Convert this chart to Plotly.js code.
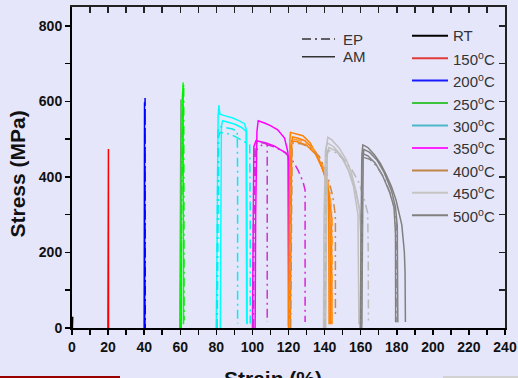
<!DOCTYPE html>
<html>
<head>
<meta charset="utf-8">
<script src="https://cdn.plot.ly/plotly-3.0.1.min.js"></script>
<style>html,body{margin:0;padding:0;background:#e6e6fa;}#chart{width:518px;height:378px;}</style>
</head>
<body>
<div id="chart"></div>
<script>
// ---- Data (strain %, stress MPa), curves offset by 20% per temperature ----
var rt_x = [0.2, 0.4];
var rt_y = [0, 30];

var t150_am1_x = [19.9, 20.0, 20.1, 20.2, 20.25];
var t150_am1_y = [0, 53, 300, 474, 0];

var t200_am1_x = [40.0, 40.1, 40.2, 40.3];
var t200_am1_y = [0, 300, 598, 0];
var t200_ep1_x = [40.3, 40.4, 40.5, 40.6];
var t200_ep1_y = [0, 300, 609, 0];

var t250_am1_x = [59.8, 60.1, 60.4, 60.6];
var t250_am1_y = [0, 300, 605, 0];
var t250_am2_x = [60.0, 60.5, 61.1, 61.6, 61.8];
var t250_am2_y = [0, 300, 600, 650, 10];
var t250_ep1_x = [60.2, 60.8, 61.4, 61.9, 62.1];
var t250_ep1_y = [0, 300, 620, 645, 20];

var t300_am1_x = [80.0, 80.4, 81.0, 81.4, 82.0, 84.0, 89.2, 93.0, 95.6, 96.5, 96.7, 96.8];
var t300_am1_y = [0, 300, 560, 590, 566, 563, 556, 548, 541, 527, 300, 12];
var t300_am2_x = [82.2, 82.4, 82.8, 83.5, 86.0, 90.0, 94.0, 96.8, 97.0, 97.1];
var t300_am2_y = [0, 300, 535, 549, 546, 540, 531, 520, 300, 10];
var t300_ep1_x = [80.1, 80.4, 80.9, 81.6, 85.0, 89.0, 91.6, 91.8, 91.8];
var t300_ep1_y = [0, 300, 520, 534, 531, 527, 520, 400, 12];
var t300_ep2_x = [80.5, 80.8, 81.3, 82.0, 86.0, 90.0, 94.0, 97.0, 98.5, 98.8, 98.8];
var t300_ep2_y = [0, 300, 505, 518, 515, 508, 498, 490, 485, 300, 12];

var t350_am1_x = [101.5, 101.8, 102.5, 103.2, 106.7, 110.0, 114.0, 117.8, 119.6, 120.0, 120.2];
var t350_am1_y = [0, 300, 520, 549, 543, 536, 525, 503, 467, 440, 5];
var t350_am2_x = [100.0, 100.3, 100.8, 102.0, 107.6, 112.0, 118.7, 119.8, 120.0];
var t350_am2_y = [0, 300, 480, 496, 490, 482, 463, 455, 5];
var t350_ep1_x = [100.3, 100.6, 101.5, 104.0, 108.2, 108.2];
var t350_ep1_y = [0, 300, 485, 492, 487, 16];
var t350_ep2_x = [100.6, 100.9, 102.0, 106.0, 112.0, 118.0, 122.0, 125.2, 128.0, 129.2, 129.2];
var t350_ep2_y = [0, 300, 470, 488, 480, 465, 445, 419, 388, 365, 16];

var t400_am1_x = [120.0, 120.3, 120.8, 121.1, 124.0, 128.0, 132.0, 136.2, 139.0, 141.8, 142.3, 142.5];
var t400_am1_y = [0, 300, 500, 518, 514, 509, 490, 454, 420, 384, 300, 10];
var t400_am2_x = [121.0, 121.3, 121.8, 122.2, 125.0, 129.0, 133.0, 137.0, 140.5, 142.8, 143.1, 143.2];
var t400_am2_y = [0, 300, 490, 506, 503, 496, 478, 445, 400, 350, 250, 10];
var t400_am3_x = [120.5, 120.8, 121.3, 121.8, 125.0, 130.0, 135.0, 139.0, 142.0, 143.8, 144.1];
var t400_am3_y = [0, 300, 480, 495, 493, 484, 460, 420, 370, 300, 10];
var t400_ep1_x = [120.8, 121.1, 121.6, 122.0, 126.0, 131.0, 136.0, 140.0, 143.0, 144.2, 144.2];
var t400_ep1_y = [0, 300, 485, 500, 497, 487, 462, 420, 360, 290, 10];
var t400_ep2_x = [121.2, 121.5, 122.0, 122.5, 127.0, 132.0, 137.0, 141.0, 144.5, 145.9, 146.0, 146.0];
var t400_ep2_y = [0, 300, 475, 490, 488, 478, 455, 415, 350, 300, 286, 29];

var t450_am1_x = [140.0, 140.3, 141.0, 141.8, 144.0, 148.2, 152.0, 154.7, 157.5, 159.3, 160.0, 160.2];
var t450_am1_y = [0, 300, 480, 505, 498, 476, 445, 414, 361, 317, 250, 10];
var t450_am2_x = [139.4, 139.7, 140.5, 141.5, 145.0, 149.0, 153.0, 156.0, 158.5, 158.8, 159.0];
var t450_am2_y = [0, 300, 470, 490, 480, 458, 420, 375, 300, 200, 10];
var t450_am3_x = [140.6, 141.0, 141.5, 142.3, 146.0, 150.0, 154.0, 157.0, 159.5, 160.6, 160.7];
var t450_am3_y = [0, 300, 460, 478, 470, 448, 410, 365, 310, 250, 10];
var t450_ep1_x = [140.2, 140.5, 141.2, 142.0, 146.0, 150.0, 155.0, 159.0, 162.0, 163.9, 164.2, 164.3];
var t450_ep1_y = [0, 300, 455, 470, 465, 450, 420, 385, 340, 305, 200, 20];

var t500_am1_x = [160.0, 160.3, 160.8, 161.2, 164.0, 167.6, 171.0, 174.1, 177.0, 179.6, 182.8, 184.2, 184.6, 184.8];
var t500_am1_y = [0, 300, 465, 485, 478, 459, 435, 406, 375, 339, 273, 202, 150, 16];
var t500_am2_x = [160.6, 160.9, 161.4, 161.8, 165.0, 169.0, 173.0, 177.0, 179.3, 180.3, 180.5, 180.6];
var t500_am2_y = [0, 300, 455, 473, 465, 445, 412, 365, 320, 270, 150, 15];
var t500_am3_x = [159.8, 160.1, 160.6, 161.0, 164.0, 168.0, 172.0, 176.0, 178.5, 179.3, 179.4];
var t500_am3_y = [0, 300, 445, 462, 456, 437, 405, 360, 320, 250, 15];
var t500_ep1_x = [160.3, 160.6, 161.1, 161.5, 165.0, 169.0, 173.0, 176.5, 179.0, 180.0, 180.1];
var t500_ep1_y = [0, 300, 435, 452, 447, 428, 397, 355, 310, 260, 15];

var legendLabels = ['RT', '150<sup>o</sup>C', '200<sup>o</sup>C', '250<sup>o</sup>C', '300<sup>o</sup>C',
                    '350<sup>o</sup>C', '400<sup>o</sup>C', '450<sup>o</sup>C', '500<sup>o</sup>C'];
var legendColors = ['#000000', '#e03a3a', '#1a1aff', '#3cc43c', '#4ab8c8', '#ff22ff', '#c0834a', '#c4c4c4', '#808080'];
var styleLabels = ['EP', 'AM'];

// ---- Styles ----
var DD = '9px,4px,2px,4px';
function curve(x, y, color, dash) {
  return {type: 'scatter', mode: 'lines', x: x, y: y, showlegend: false, hoverinfo: 'skip',
          line: {color: color, width: 1.5, dash: dash || 'solid'}};
}
var traces = [
  curve(rt_x, rt_y, '#000000'),
  curve(t150_am1_x, t150_am1_y, '#ff0000'),
  curve(t200_am1_x, t200_am1_y, '#0000ff'),
  curve(t200_ep1_x, t200_ep1_y, '#0000ff', DD),
  curve(t250_am1_x, t250_am1_y, '#6aa66a'),
  curve(t250_am2_x, t250_am2_y, '#00ff00'),
  curve(t250_ep1_x, t250_ep1_y, '#00ee00', DD),
  curve(t300_am1_x, t300_am1_y, '#00ffff'),
  curve(t300_am2_x, t300_am2_y, '#00ffff'),
  curve(t300_ep1_x, t300_ep1_y, '#00f0f0', DD),
  curve(t300_ep2_x, t300_ep2_y, '#00f0f0', DD),
  curve(t350_am1_x, t350_am1_y, '#ff00ff'),
  curve(t350_am2_x, t350_am2_y, '#ff00ff'),
  curve(t350_ep1_x, t350_ep1_y, '#cc33cc', DD),
  curve(t350_ep2_x, t350_ep2_y, '#dd22dd', DD),
  curve(t400_am1_x, t400_am1_y, '#ff8000'),
  curve(t400_am2_x, t400_am2_y, '#ff8000'),
  curve(t400_am3_x, t400_am3_y, '#ff8000'),
  curve(t400_ep1_x, t400_ep1_y, '#ff9a30', DD),
  curve(t400_ep2_x, t400_ep2_y, '#d08a45', DD),
  curve(t450_am1_x, t450_am1_y, '#c0c0c0'),
  curve(t450_am2_x, t450_am2_y, '#c0c0c0'),
  curve(t450_am3_x, t450_am3_y, '#c0c0c0'),
  curve(t450_ep1_x, t450_ep1_y, '#b8b8b8', DD),
  curve(t500_am1_x, t500_am1_y, '#808080'),
  curve(t500_am2_x, t500_am2_y, '#808080'),
  curve(t500_am3_x, t500_am3_y, '#808080'),
  curve(t500_ep1_x, t500_ep1_y, '#8a8a8a', DD)
];
// helper trace so the mirrored frame axes exist
traces.push({type: 'scatter', mode: 'lines', x: rt_x, y: rt_y, xaxis: 'x2', yaxis: 'y2',
             line: {color: 'rgba(0,0,0,0)'}, showlegend: false, hoverinfo: 'skip'});

// ---- Layout geometry (pixels -> paper) ----
var L = 72, T = 7, W = 433, H = 321;
function px(x) { return (x - L) / W; }
function py(y) { return (T + H - y) / H; }

var shapes = [], annotations = [];
var legTop = 35.7, legStep = 22.45;
legendLabels.forEach(function (lab, i) {
  var yy = legTop + i * legStep;
  shapes.push({type: 'line', xref: 'paper', yref: 'paper', x0: px(412), x1: px(448), y0: py(yy), y1: py(yy),
               line: {color: legendColors[i], width: 2}});
  annotations.push({xref: 'paper', yref: 'paper', x: px(451), y: py(yy), xanchor: 'left', yanchor: 'middle',
                    text: lab, showarrow: false, font: {family: 'Arial', size: 15, color: '#333333'}});
});
var styY = [39, 56.7], styDash = [DD, 'solid'];
styleLabels.forEach(function (lab, i) {
  shapes.push({type: 'line', xref: 'paper', yref: 'paper', x0: px(302), x1: px(335), y0: py(styY[i]), y1: py(styY[i]),
               line: {color: '#333333', width: 1.5, dash: styDash[i]}});
  annotations.push({xref: 'paper', yref: 'paper', x: px(341), y: py(styY[i]), xanchor: 'left', yanchor: 'middle',
                    text: lab, showarrow: false, font: {family: 'Arial', size: 15, color: '#333333'}});
});
// axis titles
annotations.push({xref: 'paper', yref: 'paper', x: px(17.5), y: py(174), xanchor: 'center', yanchor: 'middle',
                  textangle: -90, text: 'Stress (MPa)', showarrow: false,
                  font: {family: 'Arial', size: 21, color: '#111111', weight: 'bold'}});
annotations.push({xref: 'paper', yref: 'paper', x: px(272.5), y: py(365), xanchor: 'center', yanchor: 'top',
                  text: 'Strain (%)', showarrow: false,
                  font: {family: 'Arial', size: 21, color: '#111111', weight: 'bold'}});
// screenshot edge strips
shapes.push({type: 'rect', xref: 'paper', yref: 'paper', x0: px(0), x1: px(120), y0: py(378), y1: py(376),
             fillcolor: '#9a0000', line: {width: 0}});
shapes.push({type: 'rect', xref: 'paper', yref: 'paper', x0: px(443), x1: px(518), y0: py(378), y1: py(376),
             fillcolor: '#d2d2d2', line: {width: 0}});

var tickFont = {family: 'Arial', size: 14, color: '#111111', weight: 'bold'};
var layout = {
  width: 518, height: 378,
  margin: {l: L, r: 518 - L - W, t: T, b: 378 - T - H, pad: 0},
  paper_bgcolor: '#e6e6fa', plot_bgcolor: '#e6e6fa',
  showlegend: false,
  xaxis: {range: [0, 240], tick0: 0, dtick: 20, ticks: 'outside', ticklen: 5, tickwidth: 1.5, tickcolor: '#000',
          showline: true, linecolor: '#000', linewidth: 2, zeroline: false, showgrid: false, tickfont: tickFont,
          minor: {dtick: 10, ticks: 'outside', ticklen: 5, tickwidth: 1.5, tickcolor: '#000', showgrid: false}},
  yaxis: {range: [0, 850], tick0: 0, dtick: 200, ticks: 'outside', ticklen: 5, tickwidth: 1.5, tickcolor: '#000',
          showline: true, linecolor: '#000', linewidth: 2, zeroline: false, showgrid: false, tickfont: tickFont,
          minor: {dtick: 100, ticks: 'outside', ticklen: 5, tickwidth: 1.5, tickcolor: '#000', showgrid: false}},
  xaxis2: {overlaying: 'x', anchor: 'y2', side: 'top', range: [0, 240], tick0: 0, dtick: 10, ticks: 'inside', ticklen: 6,
           tickwidth: 1.5, tickcolor: '#222', showticklabels: false, showline: true, linecolor: '#222', linewidth: 2,
           zeroline: false, showgrid: false},
  yaxis2: {overlaying: 'y', anchor: 'x2', side: 'right', range: [0, 850], tick0: 0, dtick: 100, ticks: 'inside', ticklen: 6,
           tickwidth: 1.5, tickcolor: '#222', showticklabels: false, showline: true, linecolor: '#222', linewidth: 2,
           zeroline: false, showgrid: false},
  shapes: shapes, annotations: annotations
};
Plotly.newPlot('chart', traces, layout, {staticPlot: true, displayModeBar: false});
</script>
</body>
</html>
